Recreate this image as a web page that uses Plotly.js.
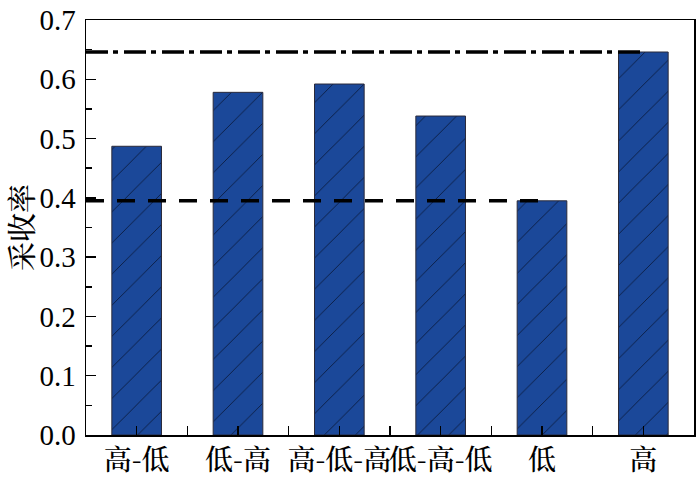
<!DOCTYPE html>
<html>
<head>
<meta charset="utf-8">
<script src="https://cdn.plot.ly/plotly-3.0.1.min.js"></script>
<style>html,body{margin:0;padding:0;background:#fff;}#chart{width:700px;height:483px;}</style>
</head>
<body>
<div id="chart"></div>
<script>
// Data
const categories = ["高-低", "低-高", "高-低-高", "低-高-低", "低", "高"];
const recovery = [0.487, 0.578, 0.592, 0.538, 0.395, 0.646];
const lowRefValue = 0.395;   // dashed reference (低)
const highRefValue = 0.646;  // dash-dot reference (高)
const yTickVals = [0, 0.1, 0.2, 0.3, 0.4, 0.5, 0.6, 0.7];

const idx = categories.map((_, i) => i);

const bars = {
  type: "bar",
  x: idx,
  y: recovery,
  width: 0.49,
  marker: {
    color: "#1b4899",
    line: {color: "#2a2a3a", width: 1},
    pattern: {shape: "/", size: 22, solidity: 0.035, fgcolor: "#081430", bgcolor: "#1b4899", fgopacity: 1, fillmode: "replace"}
  },
  hoverinfo: "skip",
  showlegend: false
};

const lowLine = {
  type: "scatter", mode: "lines",
  x: [-0.5, categories.indexOf("低")],
  y: [lowRefValue, lowRefValue],
  line: {color: "#000", width: 3.5, dash: "18px,13px"},
  showlegend: false, hoverinfo: "skip"
};
const highLine = {
  type: "scatter", mode: "lines",
  x: [-0.5, categories.indexOf("高")],
  y: [highRefValue, highRefValue],
  line: {color: "#000", width: 3.5, dash: "22px,5px,5px,6px"},
  showlegend: false, hoverinfo: "skip"
};

const serif = "Liberation Serif";
const cjkSerif = "Noto Serif CJK SC";

const layout = {
  width: 700, height: 483,
  margin: {l: 86, r: 6, t: 20, b: 48, pad: 0},
  paper_bgcolor: "#fff", plot_bgcolor: "#fff",
  bargap: 0.5,
  xaxis: {
    range: [-0.5, categories.length - 0.5],
    tickmode: "array", tickvals: idx, ticktext: categories,
    tickangle: 0,
    ticks: "inside", ticklen: 9, tickwidth: 1.5, tickcolor: "#000",
    minor: {tickmode: "linear", tick0: -0.5, dtick: 1, ticks: "inside", ticklen: 9, tickwidth: 1.5, tickcolor: "#000"},
    showline: true, linecolor: "#000", linewidth: 1.5, mirror: true,
    showgrid: false, zeroline: false,
    tickfont: {family: cjkSerif, size: 28, color: "#000", weight: 500},
    ticklabelstandoff: 0
  },
  yaxis: {
    range: [0, 0.7],
    tickmode: "array", tickvals: yTickVals, tickformat: ".1f",
    ticks: "inside", ticklen: 10, tickwidth: 1.5, tickcolor: "#000",
    minor: {tickmode: "linear", tick0: 0.05, dtick: 0.1, ticks: "inside", ticklen: 6, tickwidth: 1.5, tickcolor: "#000"},
    showline: true, linecolor: "#000", linewidth: 1.5, mirror: true,
    showgrid: false, zeroline: false,
    tickfont: {family: serif, size: 29, color: "#000"},
    ticklabelstandoff: 3,
    title: {text: "采收率", font: {family: cjkSerif, size: 29, color: "#000", weight: 500}, standoff: 2}
  }
};

Plotly.newPlot("chart", [bars, lowLine, highLine], layout, {staticPlot: true, displayModeBar: false});
</script>
</body>
</html>
